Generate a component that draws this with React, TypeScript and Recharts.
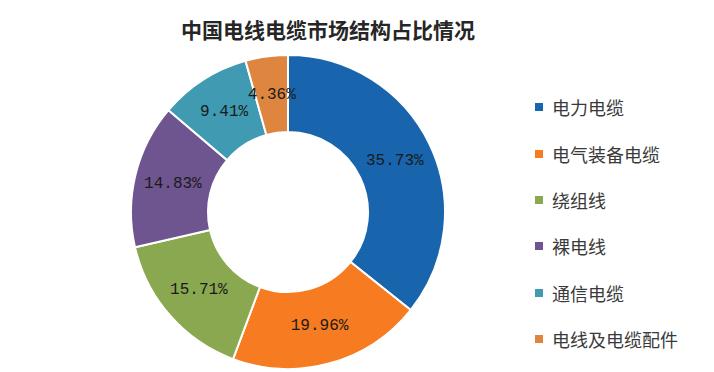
import React from "react";
import { PieChart, Pie, Cell, Legend } from "recharts";

const categories = ["电力电缆", "电气装备电缆", "绕组线", "裸电线", "通信电缆", "电线及电缆配件"];
const shares = [35.73, 19.96, 15.71, 14.83, 9.41, 4.36];
const colors = ["#1865ad", "#f77b20", "#8aa84f", "#6f5590", "#3f9ab2", "#de863f"];

const data = categories.map((name, i) => ({ name, value: shares[i], color: colors[i] }));

const RADIAN = Math.PI / 180;
const cjk = '"Noto Sans CJK SC", "Noto Sans", sans-serif';

const renderLabel = (props: any) => {
  const { cx, cy, midAngle, innerRadius, outerRadius, value } = props;
  const r = (innerRadius + outerRadius) / 2;
  const x = cx + r * Math.cos(-midAngle * RADIAN);
  const y = cy + r * Math.sin(-midAngle * RADIAN);
  return (
    <text
      x={x}
      y={y}
      fill="#1a1a1a"
      textAnchor="middle"
      dominantBaseline="central"
      style={{ fontFamily: '"Liberation Mono", monospace', fontSize: 16 }}
    >
      {`${value.toFixed(2)}%`}
    </text>
  );
};

const renderLegend = () => (
  <div style={{ fontFamily: cjk }}>
    {data.map((d) => (
      <div key={d.name} style={{ display: "flex", alignItems: "center", height: 46.4 }}>
        <span style={{ width: 8, height: 8, background: d.color, display: "inline-block", marginRight: 9 }} />
        <span style={{ fontSize: 18, color: "#3a3a3a" }}>{d.name}</span>
      </div>
    ))}
  </div>
);

export default function App() {
  return (
    <div style={{ position: "absolute", left: 0, top: 0, width: 714, height: 372, background: "#fff" }}>
      <div
        style={{
          position: "absolute",
          left: 0,
          width: 656,
          top: 15,
          textAlign: "center",
          fontFamily: cjk,
          fontWeight: "bold",
          fontSize: 21,
          lineHeight: "28px",
          color: "#262626",
        }}
      >
        中国电线电缆市场结构占比情况
      </div>
      <PieChart width={714} height={372} margin={{ top: 0, right: 0, bottom: 0, left: 0 }}>
        <Pie
          data={data}
          dataKey="value"
          nameKey="name"
          cx={288}
          cy={212}
          innerRadius={80}
          outerRadius={157}
          startAngle={90}
          endAngle={-270}
          stroke="#ffffff"
          strokeWidth={2}
          label={renderLabel}
          labelLine={false}
          isAnimationActive={false}
        >
          {data.map((d, i) => (
            <Cell key={i} fill={d.color} />
          ))}
        </Pie>
        <Legend
          content={renderLegend}
          layout="vertical"
          wrapperStyle={{ position: "absolute", left: 535, top: 84, width: 180 }}
        />
      </PieChart>
    </div>
  );
}
